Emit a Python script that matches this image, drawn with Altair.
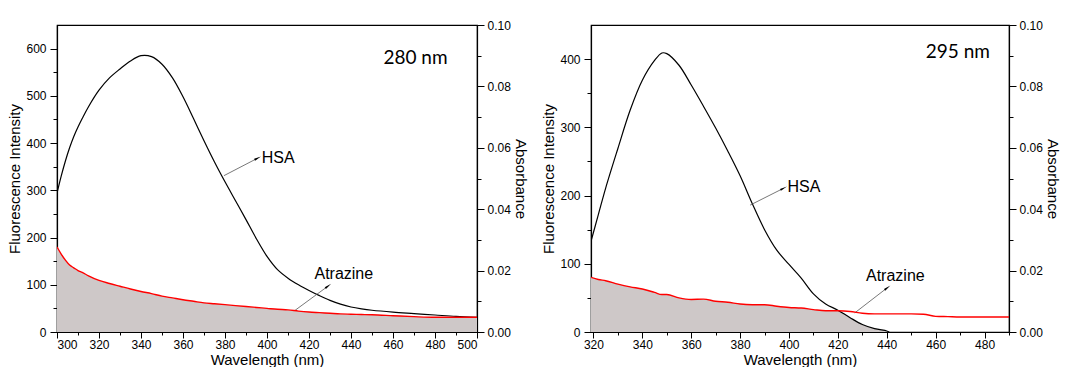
import altair as alt
import pandas as pd

ABS_MAX = 0.10

# ---- excitation at 280 nm ----
wl_280 = [300, 302, 304, 306, 308, 310, 312, 315, 320, 325, 330, 335, 340, 345,
          350, 355, 360, 365, 370, 375, 380, 385, 390, 395, 400, 405, 410, 415,
          420, 425, 430, 435, 440, 445, 450, 460, 470, 480, 490, 500]
hsa_280 = [294, 330, 362, 390, 414, 434, 452, 477, 512, 538, 557, 574, 585, 583,
           567, 538, 498, 452, 405, 360, 318, 278, 238, 197, 160, 132, 114, 100,
           88, 77, 67, 59, 53, 49, 46, 42, 39, 36, 33, 31]
atz_280 = [0.0277, 0.0254, 0.0234, 0.0218, 0.0209, 0.0200, 0.0194, 0.0183, 0.0168,
           0.0158, 0.0149, 0.0140, 0.0132, 0.0125, 0.0117, 0.0111, 0.0105, 0.0100,
           0.0095, 0.0092, 0.0089, 0.0086, 0.0083, 0.0080, 0.0077, 0.0074, 0.0072,
           0.0068, 0.0065, 0.0063, 0.0061, 0.0059, 0.0058, 0.0057, 0.0056, 0.0053,
           0.0050, 0.0048, 0.0048, 0.0048]

# ---- excitation at 295 nm ----
wl_295 = [319, 322, 325, 330, 335, 340, 345, 348, 350, 355, 360, 365, 370, 375,
          380, 385, 390, 395, 400, 405, 410, 415, 420, 425, 430, 435, 440, 441,
          445, 450, 455, 460, 465, 470, 480, 490]
hsa_295 = [133, 172, 211, 269, 325, 369, 398, 409, 408, 391, 362, 331, 299, 265,
           229, 188, 150, 120, 99, 79, 56, 41, 32, 21, 11, 5, 1.5, 0,
           None, None, None, None, None, None, None, None]
atz_295 = [0.0178, 0.0171, 0.0167, 0.0156, 0.0147, 0.0140, 0.0129, 0.0122, 0.0122,
           0.0111, 0.0106, 0.0107, 0.0100, 0.0097, 0.0091, 0.0089, 0.0089, 0.0084,
           0.0080, 0.0078, 0.0073, 0.0069, 0.0069, 0.0067, 0.0061, 0.0059, 0.0059,
           0.0059, 0.0059, 0.0059, 0.0058, 0.0051, 0.0050, 0.0049, 0.0049, 0.0049]

# ---- callouts: label, arrow tail (x, y), arrow tip (x, y), label anchor (x, y) ----
notes_280 = {
    "label": ["HSA", "Atrazine"],
    "x0": [379.5, 413.4], "y0": [331, 46],
    "x1": [395.1, 428.7], "y1": [367, 96],
    "lx": [397.5, 422.6], "ly": [369, 122],
    "ang": [62, 53],
}
notes_295 = {
    "label": ["HSA", "Atrazine"],
    "x0": [384.1, 426.9], "y0": [186, 28],
    "x1": [397.4, 439.9], "y1": [210, 64],
    "lx": [399.4, 431.5], "ly": [213, 82],
    "ang": [63, 53],
}

FONT = "Liberation Sans"


def panel(wl, hsa, atz, fl_max, fl_ticks, x_dom, x_ticks, notes, tag, tag_x, tag_y, width):
    conv = fl_max / ABS_MAX
    df = pd.DataFrame({"wl": wl, "hsa": hsa, "atz": atz})
    df["hsa"] = pd.to_numeric(df["hsa"])
    df["fill"] = df[["hsa"]].assign(a=df["atz"] * conv).min(axis=1, skipna=False)
    dh = df.dropna(subset=["hsa"])

    x_axis = alt.Axis(
        title="Wavelength (nm)", values=x_ticks,
        labelExpr="datum.value % 20 === 0 ? datum.label : ''",
        tickSize=alt.ExprRef(expr="datum.value % 20 === 0 ? 6 : 3"),
        labelPadding=1, titlePadding=2,
    )
    xs = alt.Scale(domain=x_dom, nice=False, zero=False)
    x = alt.X("wl:Q", scale=xs, axis=x_axis)

    y_axis = alt.Axis(
        title="Fluorescence Intensity", values=fl_ticks,
        labelExpr="datum.value % 100 === 0 ? datum.label : ''",
        tickSize=alt.ExprRef(expr="datum.value % 100 === 0 ? 7 : 4"),
        labelPadding=4, titlePadding=3,
    )
    ys = alt.Scale(domain=[0, fl_max], nice=False)

    def yl(field):
        return alt.Y(f"{field}:Q", scale=ys, axis=y_axis)

    def xl(field):
        return alt.X(f"{field}:Q", scale=xs, axis=x_axis)

    base = alt.Chart(dh)
    area = base.mark_area(color="#CEC8C8", clip=True, interpolate="monotone").encode(
        x=x, y=yl("fill"))
    black = base.mark_line(color="black", strokeWidth=1.2, clip=True,
                           interpolate="catmull-rom").encode(x=x, y=yl("hsa"))

    nd = alt.Chart(pd.DataFrame(notes))
    rules = nd.mark_rule(color="#555555", strokeWidth=0.8).encode(
        x=xl("x0"), y=yl("y0"), x2="x1:Q", y2="y1:Q")
    heads = nd.mark_point(shape="wedge", filled=True, color="black", size=70, opacity=1).encode(
        x=xl("x1"), y=yl("y1"), angle=alt.Angle("ang:Q", scale=None))
    labels = nd.mark_text(align="left", baseline="middle", font=FONT, fontSize=16,
                          color="black").encode(x=xl("lx"), y=yl("ly"), text="label:N")
    tagc = alt.Chart(pd.DataFrame({"t": [tag], "x": [tag_x], "y": [tag_y]})).mark_text(
        font="Lato", fontSize=19, align="center", baseline="middle", color="black"
    ).encode(x=xl("x"), y=yl("y"), text="t:N")

    left = alt.layer(area, black, rules, heads, labels, tagc)

    abs_ticks = [round(i * 0.01, 2) for i in range(11)]
    r_axis = alt.Axis(
        orient="right", title="Absorbance", values=abs_ticks,
        labelExpr="round(datum.value * 100) % 2 === 0 ? format(datum.value, '.2f') : ''",
        tickSize=alt.ExprRef(expr="round(datum.value * 100) % 2 === 0 ? 7 : 4"),
        labelPadding=3, titlePadding=2,
    )
    red = alt.Chart(df).mark_line(color="#FF0000", strokeWidth=1.4, clip=True,
                                  interpolate="monotone").encode(
        x=x,
        y=alt.Y("atz:Q", scale=alt.Scale(domain=[0, ABS_MAX], nice=False), axis=r_axis),
    )
    return alt.layer(left, red).resolve_scale(y="independent").properties(
        width=width, height=307)


p1 = panel(wl_280, hsa_280, atz_280, 650, list(range(0, 601, 50)), [300, 500],
           list(range(300, 501, 10)), notes_280, "280 nm", 470.7, 581, 420)
p2 = panel(wl_295, hsa_295, atz_295, 450, list(range(0, 401, 50)), [319, 490],
           list(range(320, 491, 10)), notes_295, "295 nm", 469.1, 411, 418)

chart = alt.hconcat(p1, p2, spacing=13).properties(
    padding={"left": 7, "top": 18, "right": 5, "bottom": 0}
).configure_axis(
    labelFont=FONT, titleFont=FONT, labelFontSize=12, titleFontSize=15,
    labelColor="black", titleColor="black", titleFontWeight="normal",
    domainColor="black", tickColor="black", domainWidth=1.2, tickWidth=1, grid=False,
).configure_view(stroke="black", strokeWidth=1.2)

chart.save("out.html", embed_options={"renderer": "svg", "actions": False})
